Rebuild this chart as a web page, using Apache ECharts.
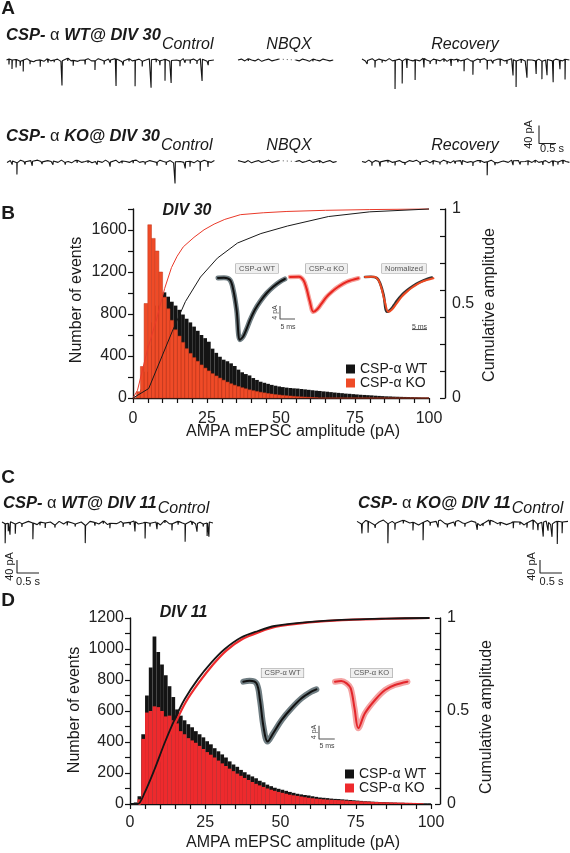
<!DOCTYPE html>
<html><head><meta charset="utf-8">
<script src="https://cdn.jsdelivr.net/npm/echarts@6/dist/echarts.min.js"></script>
<style>html,body{margin:0;padding:0;background:#fff}#c{width:570px;height:853px}</style>
</head><body><div id="c"></div>
<script>
// ---------------- DATA ----------------
const BIN = 1.25; // pA per histogram bin
const histB_WT = [0,20,80,250,500,720,880,980,1006,965,917,880,840,795,755,720,680,640,600,570,536,470,430,393,365,350,330,305,270,245,228,215,190,172,155,145,135,125,117,110,104,99,95,92,90,86,82,78,74,70,67,63,60,56,52,49,46,42,40,37,34,31,29,27,25,22,20,18,16,15,13,12,11,10,9,8,7,6,5,5];
const histB_KO = [0,60,300,900,1650,1520,1400,1200,960,850,740,650,590,530,470,425,385,350,315,285,258,232,210,190,170,152,136,122,110,98,88,78,70,62,55,49,43,38,33,29,25,22,19,16,13,11,9,7,5,3,0,0,0,0,0,0,0,0,0,0,0,0,0,0,0,0,0,0,0,0,0,0,0,0,0,0,0,0,0,0];
const histD_WT = [0,10,50,450,700,880,1080,980,900,830,760,690,610,570,540,515,495,470,450,430,405,385,360,340,320,300,275,255,240,220,205,190,178,166,150,140,125,115,105,98,92,85,78,72,66,62,58,55,50,46,42,40,38,35,33,32,30,28,26,24,22,20,18,17,15,14,13,12,11,10,9,8,8,7,6,6,5,5,4,4];
const histD_KO = [0,5,30,420,590,600,630,625,600,565,570,540,520,470,450,425,410,395,375,355,335,318,300,280,262,245,228,212,196,182,168,155,142,130,120,110,100,92,85,78,72,66,60,56,52,48,44,40,37,34,32,30,28,27,26,25,24,22,20,19,18,17,16,15,14,13,12,11,11,10,10,9,9,8,8,7,6,5,0,0];

const cumB_WT = [[0,0],[5.3,0.05],[13.2,0.35],[17.7,0.51],[22.8,0.64],[28.5,0.74],[35.3,0.82],[43.2,0.87],[52.2,0.91],[66,0.96],[80,0.985],[100,1]];
const cumB_KO = [[0,0],[1.5,0.04],[4.7,0.245],[8,0.42],[10.7,0.58],[13,0.69],[14.9,0.75],[17,0.8],[20.6,0.85],[24,0.89],[27.4,0.92],[31,0.945],[36.3,0.97],[44,0.98],[52,0.987],[65,0.993],[80,0.997],[100,1]];
const cumD_WT = [[0,0],[2.6,0],[4.8,0.058],[8.1,0.184],[11.5,0.328],[14.8,0.454],[18.1,0.562],[22.5,0.67],[27,0.76],[31.4,0.832],[36.9,0.895],[42.5,0.93],[48,0.957],[59,0.978],[70.2,0.99],[85,0.997],[99.5,1]];
const cumD_KO = [[0,0],[3,0],[5,0.05],[8.4,0.17],[11.8,0.315],[15.2,0.44],[18.6,0.55],[23,0.655],[27.6,0.75],[32,0.825],[37.5,0.888],[43,0.925],[48.5,0.953],[59.5,0.976],[70.5,0.989],[85,0.996],[99.5,1]];

// averaged mEPSC waveforms: [ms, pA]
const waveB_WT = [[0,0],[2,0.1],[4,-0.6],[5.1,-3.7],[6.2,-9.8],[7.3,-19],[8.4,-18],[9.6,-15.5],[10.7,-12.9],[12.3,-9.8],[14,-7.3],[16.2,-4.7],[18.4,-2.7],[20.7,-1.1],[22.3,-0.3]];
const waveB_KO = [[0,0],[3,0.1],[4.5,-1],[5.5,-3.5],[6.6,-7.5],[7.8,-10.7],[9,-10],[10.5,-8.2],[12.2,-6.1],[14,-4.5],[16.1,-3],[18.9,-1.5],[22.8,-0.4]];
const waveD_WT = [[0,0],[2,0.3],[4.2,-0.5],[5.3,-5.5],[6.4,-13.5],[7.7,-18],[9.5,-15.5],[12.2,-11.5],[15.3,-8],[18.5,-5],[21.6,-3],[23.2,-2.3]];
const waveD_KO = [[0,0],[2,0.2],[3.7,-0.5],[5,-2],[6.2,-8],[7.4,-14],[9.5,-9.5],[12.7,-5.5],[15.9,-2.5],[19,-1],[23,0]];

// raw current traces: baseline samples every 0.1 s (pA) + events [s, amplitude pA]
const DT = 0.1;
const noiseWT30c = [0,3,-2,2,-3,0,3,-2,-4,2,0,-3,3,-2,0,2,-3,2,4,-2,0,-3,2,0,3,-2,-2,3,0,-3,2,-2,3,0,-4,2,3,-2,0,2,-3,0,3,-2,2,-2,0,3,-3,2,0,-2,3,-3,0,2,-2,3,0,-3,2,0];
const eventsWT30c = [[0.07,12],[0.16,20],[0.28,18],[0.40,10],[0.49,25],[0.69,8],[0.85,6],[0.99,15],[1.22,8],[1.40,5],[1.63,55],[1.80,6],[1.96,12],[2.15,5],[2.31,10],[2.60,20],[2.87,8],[3.05,6],[3.22,60],[3.43,10],[3.60,6],[3.78,58],[3.99,12],[4.25,62],[4.40,7],[4.51,10],[4.66,48],[4.84,50],[5.10,12],[5.25,6],[5.40,8],[5.60,7],[5.75,48],[5.93,10]];
const noiseWT30n = [0,2,-2,3,0,-2,2,-3,0,2,-2,0,2,null,null,null,null,0,-2,2,0,-3,2,0,-2,2,0,-2,0];
const eventsWT30n = [[0.3,5],[0.9,4],[2.2,5]];
const noiseWT30r = [2,-2,0,3,-3,2,0,-2,3,-2,0,2,-3,3,0,-2,2,-2,4,0,-3,2,0,-2,3,-3,2,0,2,-2,0,3,-2,-3,2,0,3,-2,0,-3,2,2,-2,0,3,-3,0,2,-2,3,0,-2,2,-3,0,3,-2,2,0,-2,3,0];
const eventsWT30r = [[0.15,8],[0.38,15],[0.59,6],[0.97,64],[1.18,50],[1.32,20],[1.56,45],[1.82,20],[2.0,6],[2.18,10],[2.41,6],[2.62,15],[2.82,6],[3.0,25],[3.26,30],[3.47,7],[3.68,20],[3.85,6],[4.06,15],[4.26,8],[4.44,35],[4.53,58],[4.68,8],[4.85,40],[5.12,30],[5.29,40],[5.44,35],[5.62,48],[5.82,20],[5.97,45]];
const noiseKO30c = [-2,2,0,-3,3,0,-2,2,-2,3,0,-3,2,0,2,-2,3,-2,0,-3,2,3,-2,0,2,-3,0,2,-2,3,-2,0,3,-3,2,0,-2,2,3,-2,0,-3,2,0,-2,3,0,-2,2,-3,3,0,-2,2,0,-3,2,-2,3,0,-2,2];
const eventsKO30c = [[0.15,8],[0.29,26],[0.53,6],[0.74,10],[1.03,5],[1.35,8],[1.71,5],[2.06,6],[2.38,5],[2.65,8],[3.03,10],[3.38,5],[3.71,6],[4.06,5],[4.41,8],[4.68,6],[4.94,48],[5.24,15],[5.38,12],[5.68,20],[5.91,12]];
const noiseKO30n = [2,0,-2,2,-3,0,2,-2,0,3,-2,0,2,null,null,null,null,0,2,-2,0,3,-2,0,2,-3,0,2,-2,0];
const eventsKO30n = [[0.5,4],[2.4,5]];
const noiseKO30r = [0,-2,3,-2,2,0,-3,2,3,-2,0,2,-2,-3,2,0,3,-2,0,2,-3,2,0,-2,3,0,-3,2,-2,2,3,-2,0,-3,2,2,-2,0,3,-2,-3,0,2,-2,3,0,2,-3,0,2,-2,3,-2,0,2,-3,2,0,-2,3,0,-2];
const eventsKO30r = [[0.29,8],[0.53,10],[0.76,5],[0.97,8],[1.26,5],[1.71,6],[2.09,8],[2.29,5],[2.5,6],[2.74,5],[2.94,10],[3.26,8],[3.47,5],[3.68,30],[3.91,6],[4.15,5],[4.44,10],[4.65,6],[4.88,10],[5.09,5],[5.32,8],[5.62,12],[5.76,6],[5.91,8]];
const noiseWT11 = [3,-5,6,-3,2,-6,5,0,-5,8,-2,3,-6,5,-3,6,0,-5,3,-8,5,2,-3,6,-5,3,-2,5,-6,2,6,-3,0,5,-5,3,-6,8,-2,-3,5,0,-5,6,-3,2,-5,3,0];
const eventsWT11 = [[0.07,60],[0.14,25],[0.18,40],[0.3,30],[0.45,10],[0.7,50],[0.86,10],[0.98,15],[1.2,8],[1.48,12],[1.66,8],[1.89,55],[2.11,10],[2.3,8],[2.45,15],[2.64,8],[2.75,12],[2.91,8],[3.02,30],[3.25,50],[3.36,10],[3.52,20],[3.7,8],[3.86,20],[4.0,10],[4.16,55],[4.32,10],[4.43,25],[4.57,8],[4.66,40],[4.7,45]];
const noiseKO11 = [5,-3,8,2,-6,3,9,-2,5,-5,6,11,0,3,-6,2,8,-3,5,9,-2,-5,3,8,0,-3,6,2,-8,3,9,5,-2,6,-5,0,8,3,-6,5,9,-3,2,6,-5,3,8,0,5];
const eventsKO11 = [[0.11,30],[0.25,35],[0.41,10],[0.7,60],[0.86,20],[1.05,10],[1.27,25],[1.5,55],[1.66,10],[1.84,20],[2.05,10],[2.23,15],[2.45,10],[2.73,20],[2.86,8],[3.02,15],[3.25,10],[3.55,20],[3.7,8],[3.86,15],[4.0,30],[4.11,20],[4.23,45],[4.34,25],[4.43,40],[4.55,70],[4.66,35]];

// scale bars
const SCALE_TRACE = {s:0.5, pA:40};
const SCALE_INSET = {ms:5, pA:4};

// ---------------- BUILD ----------------
const FONT = '"Liberation Sans", Arial, Helvetica, sans-serif';
const grids=[], xAxes=[], yAxes=[], series=[], graphics=[];
const mctx = document.createElement('canvas').getContext('2d');
function measure(font, s){ mctx.font = font; return mctx.measureText(s).width; }

function hiddenGrid(left, top, width, height, xr, yr){
  grids.push({left, top, width, height});
  const gi = grids.length-1;
  xAxes.push({gridIndex:gi, type:'value', min:xr[0], max:xr[1], show:false});
  yAxes.push({gridIndex:gi, type:'value', min:yr[0], max:yr[1], show:false});
  return {x:xAxes.length-1, y:yAxes.length-1};
}
function line(ax, data, color, width, extra){
  series.push(Object.assign({type:'line', xAxisIndex:ax.x, yAxisIndex:ax.y, data, symbol:'none', showSymbol:false,
    silent:true, clip:false, lineStyle:{color, width}}, extra||{}));
}
function buildTrace(noise, events){
  const pts=[];
  noise.forEach((v,i)=>pts.push([+(i*DT).toFixed(4), v===null?'-':v]));
  events.forEach(([t,a])=>{
    const i=Math.floor(t/DT);
    const v0=noise[i], v1=noise[i+1];
    if(v0===null||v0===undefined) return;
    const b=(v1===null||v1===undefined)?v0:v0+(v1-v0)*((t-i*DT)/DT);
    pts.push([t-0.001,b],[t+0.002,b-a],[t+0.012,b]);
  });
  pts.sort((p,q)=>p[0]-q[0]);
  return pts;
}
function trace(left, baseline, pxPerS, pxPerPA, T, noise, events, yr){
  const top = baseline - yr[1]*pxPerPA;
  const ax = hiddenGrid(left, top, T*pxPerS, (yr[1]-yr[0])*pxPerPA, [0,T], yr);
  line(ax, buildTrace(noise, events), '#141414', 1.1);
  const g0 = noise.indexOf(null);
  if(g0>0){
    let g1=g0; while(noise[g1+1]===null) g1++;
    line(ax, [[(g0-1)*DT, noise[g0-1]], [(g1+1)*DT, noise[g1+1]]], '#555', 1, {lineStyle:{color:'#555', width:1, type:[1,3]}});
  }
}
function scaleBar(left, top, w, h, xv, yv, showV, color){
  const ax = hiddenGrid(left, top, w, h, [0,xv], [0,yv]);
  line(ax, showV?[[0,yv],[0,0],[xv,0]]:[[0,0],[xv,0]], color||'#222', 1.1);
}
function txt(x, y, text, style, rot){
  graphics.push({type:'text', x, y, rotation:rot||0, z:50, silent:true,
    style:Object.assign({text, fontSize:16, fontFamily:FONT, fill:'#1a1a1a', align:'center', verticalAlign:'middle'}, style||{})});
}
// bold-italic "CSP- α XX@ DIV nn" followed directly by subscript italic "Control"
function title(x, y, rest, size, ctlDy){
  const bFont = 'italic bold '+size+'px '+FONT, rFont = size+'px '+FONT;
  graphics.push({type:'text', x, y, z:50, silent:true, style:{text:'{b|CSP-} {a|α} {b|'+rest+'}', align:'left', verticalAlign:'middle', fill:'#1a1a1a',
    fontSize:size, fontFamily:FONT,
    rich:{b:{fontSize:size, fontWeight:'bold', fontStyle:'italic', fontFamily:FONT, fill:'#1a1a1a'},
          a:{fontSize:size, fontFamily:FONT, fill:'#1a1a1a'}}}});
  const w = measure(bFont,'CSP-') + 2*measure(rFont,' ') + measure(rFont,'α') + measure(bFont, rest);
  txt(x + w + 1, y + ctlDy, 'Control', {fontStyle:'italic', align:'left'});
}
function boxLabel(x, y, text){
  txt(x, y, text, {fontSize:7.5, fill:'#555', backgroundColor:'#efefef', borderColor:'#999', borderWidth:0.6, padding:[1,3,0,3]});
}
function histSeries(name, vals, fill, stroke, xi, yi){
  const data = vals.map((v,i)=>[i*BIN, (i+1)*BIN, v]);
  series.push({type:'custom', name, xAxisIndex:xi, yAxisIndex:yi, data, silent:true, encode:{x:[0,1], y:2},
    renderItem:(p, api)=>{
      const a = api.coord([api.value(0), 0]);
      const b = api.coord([api.value(1), api.value(2)]);
      return {type:'rect', shape:{x:a[0], y:b[1], width:b[0]-a[0], height:a[1]-b[1]},
        style:{fill, stroke:stroke||null, lineWidth:stroke?0.5:0}};
    }});
}
function mainAxes(g, yMax, yStep, yLabStep, labelTop, rightStep, rightOffset, rightMid, xMargin){
  grids.push(g);
  const gi = grids.length-1;
  const axLine = {show:true, onZero:false, lineStyle:{color:'#111', width:1.4}};
  const tick = {show:true, length:5, lineStyle:{color:'#111', width:1.2}};
  const lab = {fontSize:16, fontFamily:FONT, color:'#222'};
  xAxes.push({gridIndex:gi, type:'value', min:0, max:100, interval:5, axisLine:axLine, axisTick:tick,
    axisLabel:Object.assign({margin:xMargin, formatter:v=>(Math.round(v)%25===0?String(Math.round(v)):'')}, lab), splitLine:{show:false}});
  yAxes.push({gridIndex:gi, type:'value', min:0, max:yMax, interval:yStep, axisLine:axLine, axisTick:tick,
    axisLabel:Object.assign({margin:6, formatter:v=>(Math.round(v)%yLabStep===0 && (labelTop || v<yMax-1)?String(Math.round(v)):'')}, lab), splitLine:{show:false}});
  yAxes.push({gridIndex:gi, type:'value', position:'right', offset:rightOffset, min:0, max:1, interval:rightStep, axisLine:axLine,
    axisTick:Object.assign({}, tick, {inside:true}),
    axisLabel:Object.assign({margin:7, formatter:v=>((rightMid && Math.abs(v-0.5)<1e-3)?'0.5':(Math.abs(v)<1e-6?'0':(Math.abs(v-1)<1e-3?'1':'')))}, lab), splitLine:{show:false}});
  return {x:xAxes.length-1, yl:yAxes.length-2, yr:yAxes.length-1};
}

// ---- Panel A ----
const A_PXS = 34, A_PXPA = 0.45, A_YR = [-70, 10];
trace(6.5, 60, A_PXS, A_PXPA, 6.1, noiseWT30c, eventsWT30c, A_YR);
trace(238, 60, A_PXS, A_PXPA, 2.88, noiseWT30n, eventsWT30n, A_YR);
trace(362, 60, A_PXS, A_PXPA, 6.09, noiseWT30r, eventsWT30r, A_YR);
trace(7, 161.5, A_PXS, A_PXPA, 6.06, noiseKO30c, eventsKO30c, A_YR);
trace(238, 161.5, A_PXS, A_PXPA, 2.9, noiseKO30n, eventsKO30n, A_YR);
trace(362, 161.5, A_PXS, A_PXPA, 6.1, noiseKO30r, eventsKO30r, A_YR);
scaleBar(539, 125.5, SCALE_TRACE.s*A_PXS, SCALE_TRACE.pA*A_PXPA, SCALE_TRACE.s, SCALE_TRACE.pA, true);
txt(8, 9, 'A', {fontSize:19, fontWeight:'bold'}, 0);
title(6, 35, 'WT@ DIV 30', 16.5, 9.5);
txt(289, 44.5, 'NBQX', {fontStyle:'italic'});
txt(465, 44.5, 'Recovery', {fontStyle:'italic'});
title(6, 136, 'KO@ DIV 30', 16.5, 9.5);
txt(289, 145.5, 'NBQX', {fontStyle:'italic'});
txt(465, 145.5, 'Recovery', {fontStyle:'italic'});
txt(529, 134.5, '40 pA', {fontSize:11}, Math.PI/2);
txt(552, 148.5, '0.5 s', {fontSize:11});

// ---- Panel B ----
const B = mainAxes({left:133, top:209, width:296, height:189}, 1800, 200, 400, false, 1/7, 16, false, 13);
histSeries('CSP-α WT', histB_WT, '#141414', null, B.x, B.yl);
histSeries('CSP-α KO', histB_KO, '#ef4b27', '#c3361a', B.x, B.yl);
line({x:B.x, y:B.yr}, cumB_KO, '#ea3a2a', 1);
line({x:B.x, y:B.yr}, cumB_WT, '#1a1a1a', 1);
txt(8, 213.5, 'B', {fontSize:19, fontWeight:'bold'});
txt(187, 210.5, 'DIV 30', {fontWeight:'bold', fontStyle:'italic'});
txt(77, 300, 'Number of events', {}, Math.PI/2);
txt(490, 305, 'Cumulative amplitude', {}, Math.PI/2);
txt(293, 432, 'AMPA mEPSC amplitude (pA)');
txt(452, 303.5, '0.5', {align:'left', fill:'#222'});
const IB_X = 3, IB_Y = 3.25, I_YR = [-21, 1];
function inset(left, baseline, pxms, pxpa, T, yr, layers){
  const ax = hiddenGrid(left, baseline - yr[1]*pxpa, T*pxms, (yr[1]-yr[0])*pxpa, [0,T], yr);
  layers.forEach(L=>line(ax, L.data, L.color, L.width, {smooth:0.35, lineStyle:{color:L.color, width:L.width, cap:'round', join:'round'}}));
}
const peakB_WT = Math.min(...waveB_WT.map(p=>p[1]));
const peakB_KO = Math.min(...waveB_KO.map(p=>p[1]));
const normB_WT = waveB_WT.map(p=>[p[0], p[1]*peakB_KO/peakB_WT]);
inset(218, 278, IB_X, IB_Y, 22.5, I_YR, [{data:waveB_WT, color:'#6f7d82', width:5},{data:waveB_WT, color:'#111', width:2}]);
inset(290, 277, IB_X, IB_Y, 22.8, I_YR, [{data:waveB_KO, color:'#f6a09a', width:4.5},{data:waveB_KO, color:'#e8251f', width:2}]);
inset(365, 277, IB_X, IB_Y, 22.8, I_YR, [{data:normB_WT, color:'#333', width:2.6},{data:waveB_KO, color:'#ee4a22', width:2}]);
scaleBar(280, 306, SCALE_INSET.ms*IB_X, SCALE_INSET.pA*IB_Y, SCALE_INSET.ms, SCALE_INSET.pA, true, '#555');
scaleBar(412, 319.5, SCALE_INSET.ms*IB_X, 10, SCALE_INSET.ms, 1, false, '#555');
boxLabel(257, 268.5, 'CSP-α WT');
boxLabel(326.5, 268.5, 'CSP-α KO');
boxLabel(404, 268.5, 'Normalized');
txt(275.5, 312.5, '4 pA', {fontSize:7, fill:'#444'}, Math.PI/2);
txt(288, 327, '5 ms', {fontSize:7, fill:'#444'});
txt(419.5, 327, '5 ms', {fontSize:7, fill:'#444'});

// ---- Panel C ----
const C_PXS = 44, C_PXPA = 0.325, C_YR = [-80, 20];
trace(2, 523, C_PXS, C_PXPA, 4.75, noiseWT11, eventsWT11, C_YR);
trace(357, 523, C_PXS, C_PXPA, 4.77, noiseKO11, eventsKO11, C_YR);
scaleBar(17, 560, SCALE_TRACE.s*C_PXS, SCALE_TRACE.pA*C_PXPA, SCALE_TRACE.s, SCALE_TRACE.pA, true);
scaleBar(540, 560, SCALE_TRACE.s*C_PXS, SCALE_TRACE.pA*C_PXPA, SCALE_TRACE.s, SCALE_TRACE.pA, true);
txt(8, 478, 'C', {fontSize:19, fontWeight:'bold'});
title(3, 503, 'WT@ DIV 11', 16.5, 6);
title(358, 503, 'KO@ DIV 11', 16.5, 6);
txt(10, 566.5, '40 pA', {fontSize:11}, Math.PI/2);
txt(28, 582, '0.5 s', {fontSize:11});
txt(532, 566.5, '40 pA', {fontSize:11}, Math.PI/2);
txt(551.5, 582, '0.5 s', {fontSize:11});

// ---- Panel D ----
const D = mainAxes({left:130, top:618, width:301, height:186}, 1200, 100, 200, true, 1/12, 9, true, 11);
histSeries('CSP-α WT', histD_WT, '#141414', null, D.x, D.yl);
histSeries('CSP-α KO', histD_KO, '#ee2a2d', null, D.x, D.yl);
line({x:D.x, y:D.yr}, cumD_KO, '#ee2a2d', 2.2, {smooth:0.3});
line({x:D.x, y:D.yr}, cumD_WT, '#151515', 1.8, {smooth:0.3});
txt(8, 601, 'D', {fontSize:19, fontWeight:'bold'});
txt(183.5, 612.5, 'DIV 11', {fontWeight:'bold', fontStyle:'italic'});
txt(75, 710, 'Number of events', {}, Math.PI/2);
txt(487, 717, 'Cumulative amplitude', {}, Math.PI/2);
txt(293, 843, 'AMPA mEPSC amplitude (pA)');
const ID_X = 3.15, ID_Y = 3.325;
inset(243.3, 681.7, ID_X, ID_Y, 23.2, [-20, 1], [{data:waveD_WT, color:'#6f7d82', width:6},{data:waveD_WT, color:'#111', width:2}]);
inset(335, 681.7, ID_X, ID_Y, 23, [-20, 1], [{data:waveD_KO, color:'#f4a3a3', width:6},{data:waveD_KO, color:'#e3262b', width:2}]);
scaleBar(319, 725.7, SCALE_INSET.ms*ID_X, SCALE_INSET.pA*ID_Y, SCALE_INSET.ms, SCALE_INSET.pA, true, '#555');
boxLabel(282.5, 673, 'CSP-α WT');
boxLabel(371.5, 673, 'CSP-α KO');
txt(314.5, 732, '4 pA', {fontSize:7, fill:'#444'}, Math.PI/2);
txt(327, 746.5, '5 ms', {fontSize:7, fill:'#444'});

// ---------------- CHART ----------------
const legendCommon = {orient:'vertical', icon:'rect', itemWidth:9, itemHeight:9, itemGap:0, selectedMode:false,
  textStyle:{fontSize:14, fontFamily:FONT, color:'#1a1a1a', lineHeight:14}};
const chart = echarts.init(document.getElementById('c'), null, {renderer:'canvas'});
chart.setOption({
  animation:false,
  backgroundColor:'#ffffff',
  textStyle:{fontFamily:FONT},
  grid:grids, xAxis:xAxes, yAxis:yAxes, series,
  legend:[
    Object.assign({left:341, top:357, data:[{name:'CSP-α WT', itemStyle:{color:'#141414'}},{name:'CSP-α KO', itemStyle:{color:'#ef4b27'}}]}, legendCommon),
    Object.assign({left:340, top:762, data:[{name:'CSP-α WT', itemStyle:{color:'#141414'}},{name:'CSP-α KO', itemStyle:{color:'#ee2a2d'}}]}, legendCommon)
  ],
  graphic:{elements:graphics}
});
</script></body></html>
